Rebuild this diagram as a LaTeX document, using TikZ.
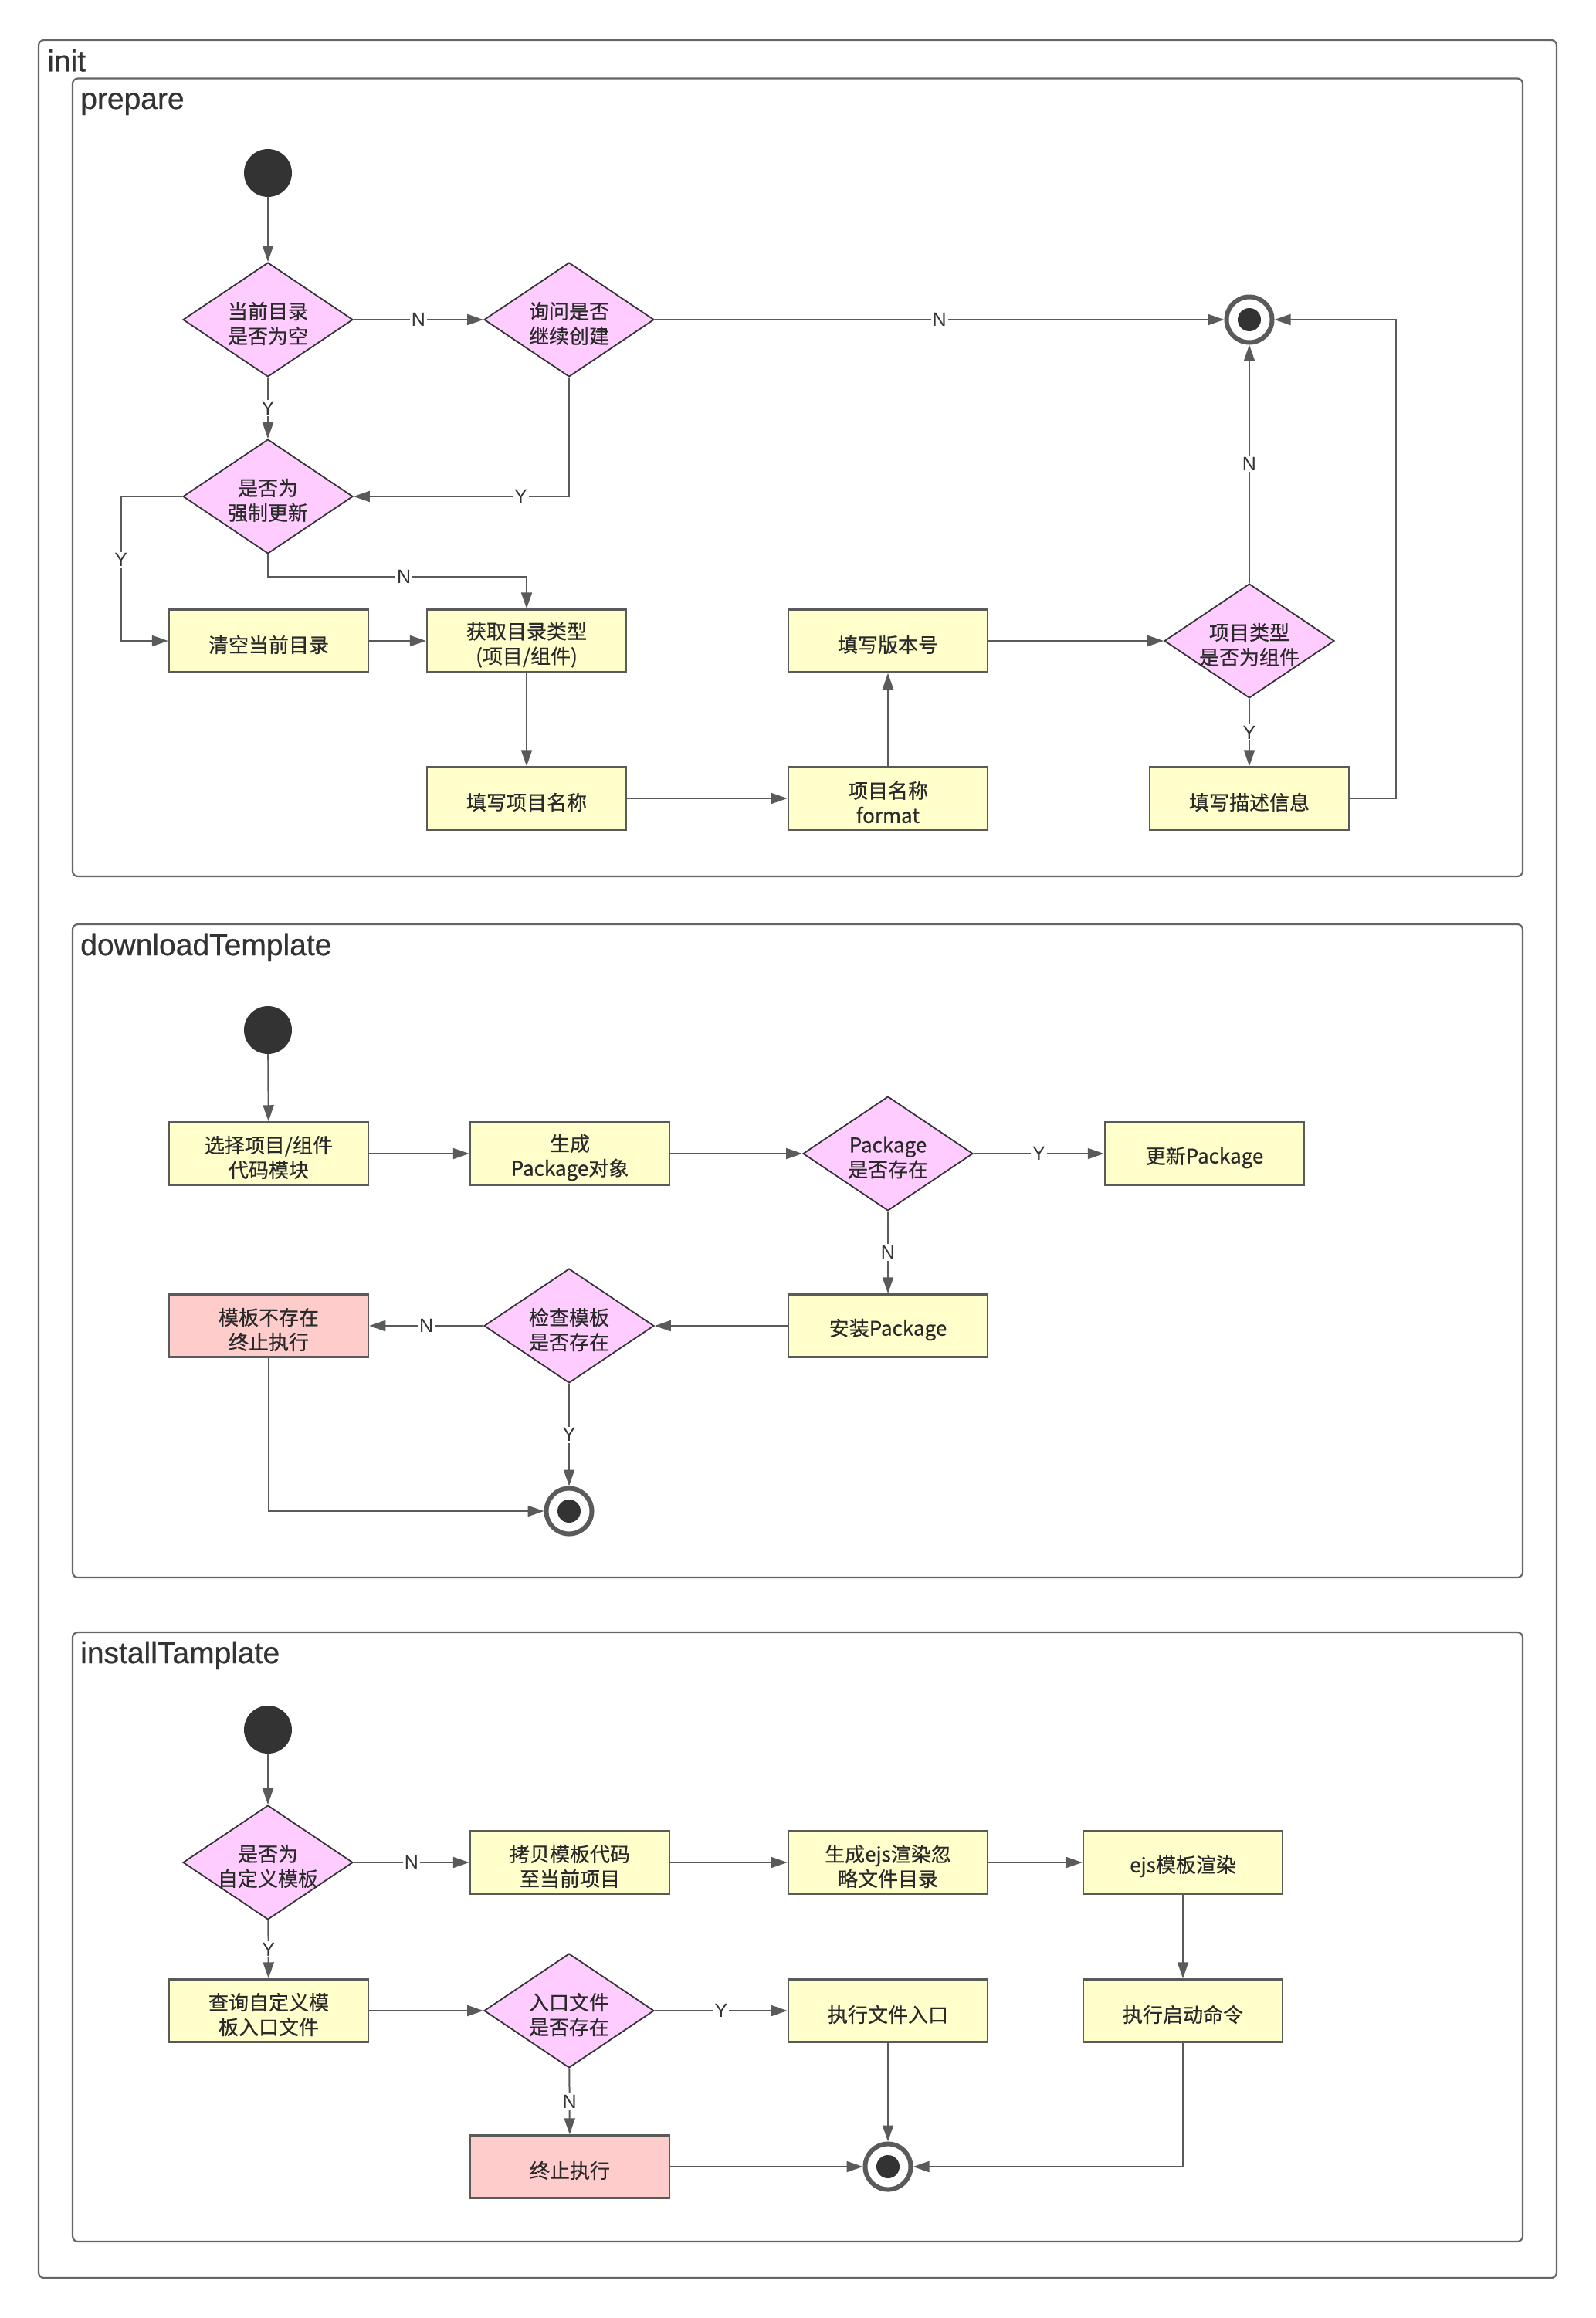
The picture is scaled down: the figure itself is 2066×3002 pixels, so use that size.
\documentclass[tikz,border=0pt]{standalone}
\usepackage{fontspec}
\setmainfont{Noto Sans CJK SC}
\newfontfamily\nodef[FakeBold=0.5]{Noto Sans CJK SC}
\newfontfamily\latinf{Liberation Sans}
\newfontfamily\latinb[FakeBold=0.6]{Liberation Sans}
\usetikzlibrary{arrows.meta,shapes.geometric,calc}
\definecolor{lineC}{HTML}{5A5A5A}
\definecolor{frameC}{HTML}{666666}
\definecolor{boxY}{HTML}{FFFFCC}
\definecolor{diaP}{HTML}{FFCCFF}
\definecolor{boxR}{HTML}{FFCCCC}
\definecolor{darkC}{HTML}{333333}
\definecolor{txtC}{HTML}{2A2A2A}
\begin{document}
\begin{tikzpicture}[x=1pt,y=-1pt,
  frame/.style={draw=frameC,line width=2.2,rounded corners=7},
  flabel/.style={anchor=base west,inner sep=0,font=\latinb\fontsize{39}{44}\selectfont,text=darkC},
  ntext/.style={align=center,text=txtC,font=\nodef\fontsize{26}{32}\selectfont,inner sep=0,yshift=-5pt},
  tx/.style={label={[ntext]center:{#1}}},
  box/.style={rectangle,draw=lineC,line width=2.5,fill=boxY,minimum width=258,minimum height=81,inner sep=0},
  rbox/.style={box,fill=boxR},
  dia/.style={diamond,draw=darkC,line width=1.8,fill=diaP,minimum width=220,minimum height=148,inner sep=0,aspect=1.5},
  conn/.style={draw=lineC,line width=2,-{Triangle[length=21pt,width=14pt]}},
  lbl/.style={fill=white,inner sep=2,text=darkC,font=\latinf\fontsize{25}{28}\selectfont},
  startn/.style={circle,fill=darkC,minimum size=62,inner sep=0},
  endn/.style={circle,draw=lineC,line width=6,fill=white,minimum size=59,inner sep=0,
    path picture={\fill[darkC] (path picture bounding box.center) circle[radius=15pt];}}
]
\useasboundingbox (0,0) rectangle (2066,3002);
\fill[white] (0,0) rectangle (2066,3002);

% frames
\draw[frame] (50,52) rectangle (2016,2950);
\node[flabel] (linit) at (61,92.5) {init};
\draw[frame] (94,101.5) rectangle (1972,1135);
\node[flabel] (lprep) at (104,141) {prepare};
\draw[frame] (94,1197) rectangle (1972,2043);
\node[flabel] (ldown) at (104,1237) {downloadTemplate};
\draw[frame] (94,2114) rectangle (1972,2903);
\node[flabel] (linst) at (104,2154) {installTamplate};

% ---------- prepare ----------
\node[startn] (s1) at (347,224) {};
\node[dia,tx={当前目录\\是否为空}] (d1) at (347,414) {};
\node[dia,tx={询问是否\\继续创建}] (d2) at (737,414) {};
\node[endn] (e1) at (1618,414) {};
\node[dia,tx={是否为\\强制更新}] (d3) at (347,643) {};
\node[box,tx={清空当前目录}] (bclr) at (348,830) {};
\node[box,tx={获取目录类型\\(项目/组件)}] (btype) at (682,830) {};
\node[box,tx={填写版本号}] (bver) at (1150,830) {};
\node[dia,tx={项目类型\\是否为组件}] (d4) at (1618,830) {};
\node[box,tx={填写项目名称}] (bname) at (682,1034) {};
\node[box,tx={项目名称\\format}] (bfmt) at (1150,1034) {};
\node[box,tx={填写描述信息}] (bdesc) at (1618,1034) {};

\draw[conn] (s1) -- (d1);
\draw[conn] (d1) -- node[lbl]{N} (d2);
\draw[conn] (d2) -- node[lbl]{N} (e1);
\draw[conn] (d1) -- node[lbl]{Y} (d3);
\draw[conn] (d2.south) |- node[lbl,pos=0.612]{Y} (d3.east);
\draw[conn] (d3.west) -| node[lbl,pos=0.72]{Y} ([xshift=-61pt]bclr.west) -- (bclr.west);
\draw[conn] (d3.south) -- ++(0,29) -| node[lbl,pos=0.263]{N} (btype.north);
\draw[conn] (bclr) -- (btype);
\draw[conn] (btype) -- (bname);
\draw[conn] (bname) -- (bfmt);
\draw[conn] (bfmt) -- (bver);
\draw[conn] (bver) -- (d4);
\draw[conn] (d4) -- node[lbl]{N} (e1);
\draw[conn] (d4) -- node[lbl]{Y} (bdesc);
\draw[conn] (bdesc.east) -- ++(60,0) |- (e1.east);

% ---------- downloadTemplate ----------
\node[startn] (s2) at (347,1334) {};
\node[box,tx={选择项目/组件\\代码模块}] (bsel) at (348,1494) {};
\node[box,tx={生成\\Package对象}] (bgen) at (738,1494) {};
\node[dia,tx={Package\\是否存在}] (d5) at (1150,1494) {};
\node[box,tx={更新Package}] (bupd) at (1560,1494) {};
\node[box,tx={安装Package}] (binst) at (1150,1717) {};
\node[dia,tx={检查模板\\是否存在}] (d6) at (737,1717) {};
\node[rbox,tx={模板不存在\\终止执行}] (bnt) at (348,1717) {};
\node[endn] (e2) at (737,1957) {};

\draw[conn] (s2) -- (bsel);
\draw[conn] (bsel) -- (bgen);
\draw[conn] (bgen) -- (d5);
\draw[conn] (d5) -- node[lbl]{Y} (bupd);
\draw[conn] (d5) -- node[lbl]{N} (binst);
\draw[conn] (binst) -- (d6);
\draw[conn] (d6) -- node[lbl]{N} (bnt);
\draw[conn] (d6) -- node[lbl]{Y} (e2);
\draw[conn] (bnt.south) |- (e2.west);

% ---------- installTamplate ----------
\node[startn] (s3) at (347,2240) {};
\node[dia,tx={是否为\\自定义模板}] (d7) at (347,2412) {};
\node[box,tx={拷贝模板代码\\至当前项目}] (bcopy) at (738,2412) {};
\node[box,tx={生成ejs渲染忽\\略文件目录}] (bejsig) at (1150,2412) {};
\node[box,tx={ejs模板渲染}] (bejs) at (1532,2412) {};
\node[box,tx={查询自定义模\\板入口文件}] (bquery) at (348,2604) {};
\node[dia,tx={入口文件\\是否存在}] (d8) at (737,2604) {};
\node[box,tx={执行文件入口}] (bexec) at (1150,2604) {};
\node[box,tx={执行启动命令}] (bstart) at (1532,2604) {};
\node[rbox,tx={终止执行}] (bstop) at (738,2806) {};
\node[endn] (e3) at (1150,2806) {};

\draw[conn] (s3) -- (d7);
\draw[conn] (d7) -- node[lbl]{N} (bcopy);
\draw[conn] (bcopy) -- (bejsig);
\draw[conn] (bejsig) -- (bejs);
\draw[conn] (d7) -- node[lbl]{Y} (bquery);
\draw[conn] (bquery) -- (d8);
\draw[conn] (d8) -- node[lbl]{Y} (bexec);
\draw[conn] (bejs) -- (bstart);
\draw[conn] (d8) -- node[lbl]{N} (bstop);
\draw[conn] (bstop) -- (e3);
\draw[conn] (bexec) -- (e3);
\draw[conn] (bstart.south) |- (e3.east);
\end{tikzpicture}
\end{document}
